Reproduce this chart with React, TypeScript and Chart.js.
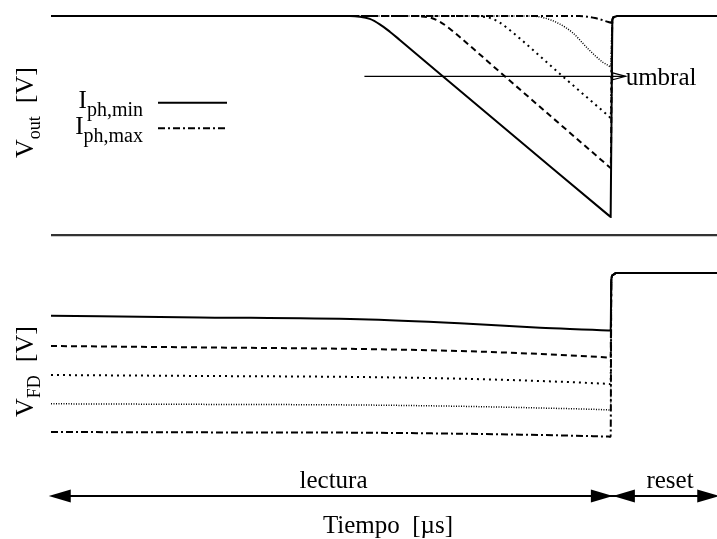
import React, { useEffect, useRef } from "react";
import { Chart, registerables } from "chart.js";
Chart.register(...registerables);

const FONT = '"Liberation Serif", "Times New Roman", Times, serif';

// ---- time axis (µs) ----
const timeMin = 0;
const timeMax = 5.95;
const lecturaStart = -0.02;
const resetStart = 5.02;
const resetEnd = 5.97;

// ---- V_out panel (top) ----
const outMin = -4.806;
const outMax = 3.2388;
const umbralV = 2.1;
const umbralStartT = 2.8;
const umbralEndT = 5.0;
const separatorV = -0.27;

const outSolidT = [0, 2.67, 2.759, 2.848, 2.9375, 3.027, 3.116, 3.5, 4.98, 5.0];
const outSolidV = [3.0, 3.0, 2.99, 2.957, 2.876, 2.766, 2.643, 2.1, 0.028, 0.0];
const outDashedT = [0, 3.2, 3.295, 3.384, 3.473, 3.5625, 3.652, 4.054, 4.98, 5.0];
const outDashedV = [3.0, 3.0, 2.996, 2.978, 2.916, 2.81, 2.686, 2.1, 0.759, 0.73];
const outDottedT = [0, 3.74, 3.83, 3.92, 4.009, 4.098, 4.1875, 4.571, 4.98, 5.0];
const outDottedV = [3.0, 3.0, 2.994, 2.972, 2.903, 2.79, 2.666, 2.1, 1.509, 1.48];
const outFineT = [0, 4.277, 4.41, 4.545, 4.66, 4.81, 4.93, 4.98, 5.0];
const outFineV = [3.0, 3.0, 2.97, 2.88, 2.75, 2.49, 2.31, 2.26, 2.24];
const outDashDotT = [0, 4.72, 4.86, 4.98, 5.0];
const outDashDotV = [3.0, 3.0, 2.97, 2.91, 2.9];
const outResetT = [5.015, 5.03, 5.06, 5.95];
const outResetV = [2.94, 2.985, 3.0, 3.0];

// ---- V_FD panel (bottom) ----
const fdMin = 0;
const fdMax = 6.7375;
const fdT = [0, 1.33, 2.76, 3.65, 4.37, 4.98, 5.0];
const fdSolidV = [2.79, 2.77, 2.746, 2.696, 2.641, 2.606, 2.604];
const fdDashedV = [2.4125, 2.395, 2.375, 2.35, 2.3125, 2.268, 2.266];
const fdDottedV = [2.05, 2.038, 2.025, 2.004, 1.975, 1.939, 1.9375];
const fdFineV = [1.69, 1.683, 1.675, 1.659, 1.6375, 1.614, 1.6125];
const fdDashDotV = [1.3375, 1.333, 1.329, 1.316, 1.3, 1.28, 1.279];
const fdResetT = [5.006, 5.02, 5.05, 5.95];
const fdResetV = [3.24, 3.3, 3.325, 3.325];

// ---- line styles ----
const styleNames = ["solid", "dashed", "dotted", "fine", "dashdot"];
const styleDash: number[][] = [[], [6, 4], [2, 4], [1, 1.5], [7, 3, 2, 3]];
const styleWidth = [2, 2, 2, 1.5, 2];

function build(ts: number[], vs: number[], rt: number[], rv: number[]) {
  const pts = ts.map((t, i) => ({ x: t, y: vs[i] }));
  rt.forEach((t, i) => pts.push({ x: t, y: rv[i] }));
  return pts;
}

const annotations = {
  id: "annotations",
  afterDatasetsDraw(chart: any) {
    const { ctx, scales } = chart;
    const xs = scales.x;
    const yo = scales.yOut;
    ctx.save();
    ctx.fillStyle = "#000";
    ctx.strokeStyle = "#000";

    // separator
    const sepY = yo.getPixelForValue(separatorV);
    ctx.strokeStyle = "#333";
    ctx.lineWidth = 2.2;
    ctx.beginPath();
    ctx.moveTo(xs.left, sepY);
    ctx.lineTo(xs.right, sepY);
    ctx.stroke();

    // umbral line + open arrow
    ctx.strokeStyle = "#000";
    const uy = yo.getPixelForValue(umbralV);
    const ux0 = xs.getPixelForValue(umbralStartT);
    const ux1 = xs.getPixelForValue(umbralEndT) + 2;
    const tip = ux1 + 13;
    ctx.lineWidth = 1.2;
    ctx.beginPath();
    ctx.moveTo(ux0, uy);
    ctx.lineTo(tip, uy);
    ctx.stroke();
    ctx.beginPath();
    ctx.moveTo(tip - 13, uy - 3.5);
    ctx.lineTo(tip, uy);
    ctx.lineTo(tip - 13, uy + 3.5);
    ctx.closePath();
    ctx.stroke();
    ctx.font = `25px ${FONT}`;
    ctx.textAlign = "left";
    ctx.textBaseline = "alphabetic";
    ctx.fillText("umbral", tip, uy + 8.5);

    // legend
    const legend = [
      { sub: "ph,min", y: 108, dash: styleDash[0], ly: 102.7 },
      { sub: "ph,max", y: 134, dash: styleDash[4], ly: 128.3 },
    ];
    legend.forEach((l) => {
      ctx.textAlign = "right";
      ctx.font = `20px ${FONT}`;
      ctx.fillText(l.sub, 143, l.y + 8);
      const w = ctx.measureText(l.sub).width;
      ctx.font = `25px ${FONT}`;
      ctx.fillText("I", 143 - w, l.y);
      ctx.setLineDash(l.dash);
      ctx.lineWidth = 2;
      ctx.beginPath();
      ctx.moveTo(158, l.ly);
      ctx.lineTo(227, l.ly);
      ctx.stroke();
      ctx.setLineDash([]);
    });

    // y labels (rotated)
    const ylab = (x: number, y: number, main: string, sub: string) => {
      ctx.save();
      ctx.translate(x, y);
      ctx.rotate(-Math.PI / 2);
      ctx.textAlign = "left";
      ctx.font = `26px ${FONT}`;
      ctx.fillText("V", 0, 0);
      let off = ctx.measureText("V").width;
      ctx.font = `18px ${FONT}`;
      ctx.fillText(sub, off, 7);
      off += ctx.measureText(sub).width;
      ctx.font = `26px ${FONT}`;
      ctx.fillText(main, off, 0);
      ctx.restore();
    };
    ylab(33, 158, "  [V]", "out");
    ylab(33, 417, "  [V]", "FD");

    // bottom arrows
    const ay = 496;
    const a0 = xs.getPixelForValue(lecturaStart);
    const a1 = xs.getPixelForValue(resetStart);
    const a2 = xs.getPixelForValue(resetEnd);
    ctx.lineWidth = 2;
    ctx.beginPath();
    ctx.moveTo(a0 + 10, ay);
    ctx.lineTo(a2 - 10, ay);
    ctx.stroke();
    const head = (tx: number, dir: number) => {
      ctx.beginPath();
      ctx.moveTo(tx, ay);
      ctx.lineTo(tx - dir * 22, ay - 6.5);
      ctx.lineTo(tx - dir * 22, ay + 6.5);
      ctx.closePath();
      ctx.fill();
    };
    head(a0, -1);
    head(a1, 1);
    head(a1, -1);
    head(a2, 1);

    ctx.textAlign = "center";
    ctx.font = `25px ${FONT}`;
    ctx.fillText("lectura", 333.5, 488);
    ctx.fillText("reset", 670, 488);
    ctx.fillText("Tiempo  [\u00b5s]", 388, 533);

    ctx.restore();
  },
};

export default function App() {
  const ref = useRef<HTMLCanvasElement | null>(null);
  useEffect(() => {
    if (!ref.current) return;
    const outSets = [
      build(outSolidT, outSolidV, outResetT, outResetV),
      build(outDashedT, outDashedV, outResetT, outResetV),
      build(outDottedT, outDottedV, outResetT, outResetV),
      build(outFineT, outFineV, outResetT, outResetV),
      build(outDashDotT, outDashDotV, outResetT, outResetV),
    ];
    const fdVals = [fdSolidV, fdDashedV, fdDottedV, fdFineV, fdDashDotV];
    const datasets: any[] = [];
    outSets.forEach((d, i) =>
      datasets.push({
        label: "Vout " + styleNames[i],
        data: d,
        yAxisID: "yOut",
        borderColor: "#000",
        borderWidth: styleWidth[i],
        borderDash: styleDash[i],
        pointRadius: 0,
        cubicInterpolationMode: "monotone",
        fill: false,
      })
    );
    fdVals.forEach((v, i) =>
      datasets.push({
        label: "VFD " + styleNames[i],
        data: build(fdT, v, fdResetT, fdResetV),
        yAxisID: "yFD",
        borderColor: "#000",
        borderWidth: styleWidth[i],
        borderDash: styleDash[i],
        pointRadius: 0,
        cubicInterpolationMode: "monotone",
        fill: false,
      })
    );
    const chart = new Chart(ref.current, {
      type: "line",
      data: { datasets },
      options: {
        animation: false,
        responsive: false,
        devicePixelRatio: 1,
        layout: { padding: { left: 51, right: 0, top: 0, bottom: 0 } },
        plugins: { legend: { display: false }, tooltip: { enabled: false } },
        scales: {
          x: { type: "linear", min: timeMin, max: timeMax, display: false },
          yOut: { type: "linear", min: outMin, max: outMax, display: false },
          yFD: { type: "linear", min: fdMin, max: fdMax, display: false },
        },
      },
      plugins: [annotations],
    });
    return () => chart.destroy();
  }, []);
  return (
    <div style={{ position: "fixed", left: 0, top: 0, width: 717, height: 539, background: "#fff" }}>
      <canvas ref={ref} width={717} height={539} />
    </div>
  );
}
